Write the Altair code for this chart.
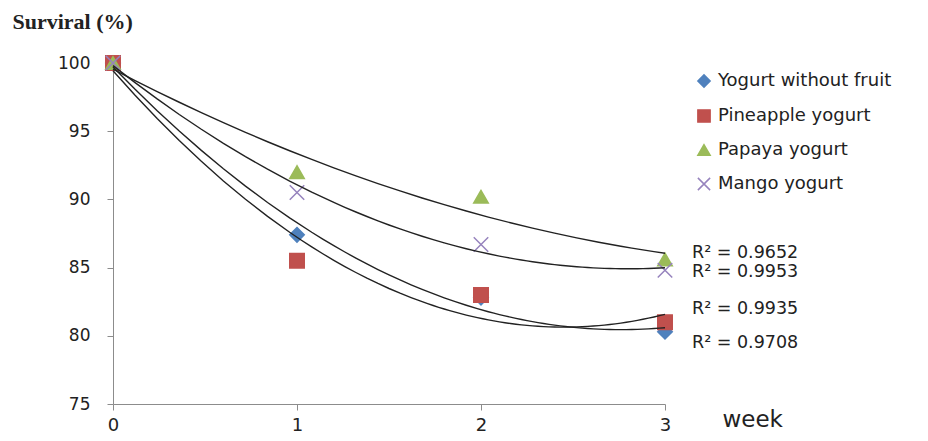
import altair as alt
import pandas as pd

weeks = [0, 1, 2, 3]
series_names = ["Yogurt without fruit", "Pineapple yogurt", "Papaya yogurt", "Mango yogurt"]
without_fruit = [100, 87.4, 82.8, 80.3]
pineapple = [100, 85.5, 83.0, 81.0]
papaya = [100, 92.0, 90.2, 85.6]
mango = [100, 90.5, 86.7, 84.8]
colors = ["#4F81BD", "#C0504D", "#9BBB59", "#9683BD"]
shapes = ["diamond", "square", "triangle-up", "M-1,-1L1,1M-1,1L1,-1"]

r2_labels = ["R² = 0.9652", "R² = 0.9953", "R² = 0.9935", "R² = 0.9708"]
r2_anchor = [86.1, 84.7, 82.0, 79.5]

rows = []
for name, vals in zip(series_names, [without_fruit, pineapple, papaya, mango]):
    for w, v in zip(weeks, vals):
        rows.append({"series": name, "week": w, "survival": v})
df = pd.DataFrame(rows)

r2_df = pd.DataFrame({"label": r2_labels, "y": r2_anchor, "x": [3] * len(r2_labels)})

xscale = alt.Scale(domain=[0, 3], nice=False, zero=False)
yscale = alt.Scale(domain=[75, 100], nice=False, zero=False)

xaxis = alt.Axis(values=weeks, format="d", grid=False, domainColor="#8c8c8c", tickColor="#8c8c8c",
                 tickSize=6, labelFont="DejaVu Sans", labelFontSize=18, labelColor="#222222",
                 labelFlush=False, labelPadding=6, title="week", titleX=609, titleY=22,
                 titleAlign="left", titleBaseline="alphabetic", titleFont="DejaVu Sans",
                 titleFontSize=23, titleFontWeight="normal", titleColor="#222222")
yaxis = alt.Axis(values=[75, 80, 85, 90, 95, 100], grid=False, domainColor="#8c8c8c",
                 tickColor="#8c8c8c", tickSize=6, labelFont="DejaVu Sans", labelFontSize=17,
                 labelColor="#222222", labelFlush=False, labelPadding=17, title="Surviral (%)",
                 titleAngle=0, titleX=-101, titleY=-35, titleAlign="left",
                 titleBaseline="alphabetic", titleFont="Liberation Serif", titleFontSize=22,
                 titleFontWeight="bold", titleColor="#222222")

legend = alt.Legend(title=None, orient="none", legendX=582, legendY=9, padding=0, rowPadding=15,
                    symbolSize=150, symbolStrokeWidth=1.5, labelFont="DejaVu Sans",
                    labelFontSize=18, labelColor="#222222", labelOffset=5, labelLimit=400)

points = alt.Chart(df).mark_point(filled=True, size=210, strokeWidth=1.5, opacity=1).encode(
    x=alt.X("week:Q", scale=xscale, axis=xaxis),
    y=alt.Y("survival:Q", scale=yscale, axis=yaxis),
    fill=alt.Fill("series:N", scale=alt.Scale(domain=series_names, range=colors), legend=legend),
    stroke=alt.Stroke("series:N", scale=alt.Scale(domain=series_names, range=colors), legend=legend),
    shape=alt.Shape("series:N", scale=alt.Scale(domain=series_names, range=shapes), legend=legend),
)

lines = alt.Chart(df).transform_regression(
    "week", "survival", groupby=["series"], method="poly", order=2, extent=[0, 3]
).mark_line(color="#222222", strokeWidth=1.4).encode(
    x=alt.X("week:Q", scale=xscale),
    y=alt.Y("survival:Q", scale=yscale),
    detail="series:N",
)

r2 = alt.Chart(r2_df).mark_text(align="left", baseline="middle", dx=27, font="DejaVu Sans",
                                 fontSize=17.5, color="#222222").encode(
    x=alt.X("x:Q", scale=xscale),
    y=alt.Y("y:Q", scale=yscale),
    text="label:N",
)

chart = alt.layer(points, lines, r2).properties(
    width=552, height=341,
    padding={"left": 105, "top": 55, "right": 255, "bottom": 29},
    autosize=alt.AutoSizeParams(type="none"),
).configure_view(stroke=None)

chart.save("out.html", embed_options={"renderer": "svg", "actions": False})
